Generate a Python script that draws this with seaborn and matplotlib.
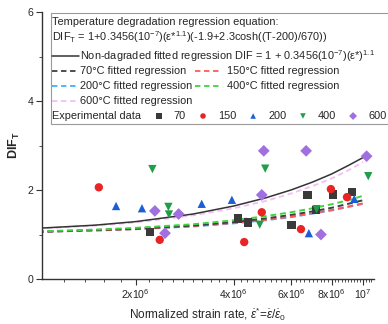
import numpy as np
import pandas as pd
import matplotlib
matplotlib.use("Agg")
import matplotlib.pyplot as plt
from matplotlib.patches import Rectangle
from matplotlib.ticker import FixedLocator, NullFormatter
import seaborn as sns

# experimental points
temps = ["70", "150", "200", "400", "600"]
rate_70 = [2.21e6, 4.12e6, 4.43e6, 6.03e6, 6.75e6, 7.16e6, 8.09e6, 9.26e6]
dif_70 = [1.06, 1.36, 1.27, 1.21, 1.89, 1.55, 1.90, 1.96]
rate_150 = [1.54e6, 2.37e6, 4.31e6, 4.88e6, 6.44e6, 7.96e6, 8.92e6]
dif_150 = [2.06, 0.88, 0.83, 1.50, 1.12, 2.02, 1.84]
rate_200 = [1.74e6, 2.09e6, 3.19e6, 3.95e6, 6.81e6, 9.39e6]
dif_200 = [1.64, 1.59, 1.69, 1.78, 1.03, 1.80]
rate_400 = [2.25e6, 2.52e6, 2.53e6, 5.0e6, 4.81e6, 7.19e6, 1.037e7]
dif_400 = [2.47, 1.62, 1.45, 2.48, 1.22, 1.57, 2.31]
rate_600 = [2.29e6, 2.46e6, 2.71e6, 4.95e6, 4.88e6, 6.68e6, 7.42e6, 1.025e7]
dif_600 = [1.53, 1.03, 1.46, 2.88, 1.89, 2.88, 1.00, 2.76]

# fitted regression curves
curve_rate = [1.0e6, 1.5e6, 2e6, 3e6, 4e6, 5e6, 6e6, 7e6, 8e6, 9e6, 1e7]
curve_nondeg = [1.14, 1.21, 1.29, 1.46, 1.64, 1.82, 2.00, 2.18, 2.36, 2.55, 2.73]
curve_70 = [1.06, 1.10, 1.13, 1.20, 1.28, 1.36, 1.44, 1.52, 1.60, 1.69, 1.77]
curve_150 = [1.06, 1.09, 1.12, 1.19, 1.26, 1.33, 1.40, 1.48, 1.55, 1.63, 1.70]
curve_200 = [1.06, 1.09, 1.12, 1.18, 1.25, 1.32, 1.39, 1.47, 1.54, 1.62, 1.69]
curve_400 = [1.07, 1.11, 1.15, 1.23, 1.32, 1.41, 1.50, 1.59, 1.68, 1.77, 1.87]
curve_600 = [1.13, 1.20, 1.27, 1.43, 1.59, 1.75, 1.92, 2.09, 2.26, 2.44, 2.63]

xtick_vals = [2e6, 4e6, 6e6, 8e6, 1e7]
xtick_labels = [r"2x10$^6$", r"4x10$^6$", r"6x10$^6$", r"8x10$^6$", r"10$^7$"]

marker_colors = {"70": "#3a3a3a", "150": "#e82424", "200": "#1a5fd6",
                 "400": "#1f9e4a", "600": "#a070e0"}
line_colors = {"70": "#404040", "150": "#ff5a5a", "200": "#40b0ff",
               "400": "#3fd43f", "600": "#f3bff3"}
markers = {"70": "s", "150": "o", "200": "^", "400": "v", "600": "D"}

sns.set_theme(style="ticks")
plt.rcParams["font.family"] = ["Liberation Sans", "DejaVu Sans"]
plt.rcParams["mathtext.fontset"] = "custom"
plt.rcParams["mathtext.rm"] = "Liberation Sans"
plt.rcParams["mathtext.it"] = "Liberation Sans:italic"
plt.rcParams["mathtext.bf"] = "Liberation Sans:bold"

pts = pd.concat([
    pd.DataFrame({"rate": r, "dif": d, "T": t})
    for t, r, d in zip(temps, [rate_70, rate_150, rate_200, rate_400, rate_600],
                       [dif_70, dif_150, dif_200, dif_400, dif_600])
])
curves = {"70": curve_70, "150": curve_150, "200": curve_200,
          "400": curve_400, "600": curve_600}

fig = plt.figure(figsize=(3.88, 3.24), dpi=100)
ax = fig.add_axes([42 / 388, 45 / 324, 332 / 388, 267 / 324])
ax.set_xscale("log")

dash = (0, (3, 2))
sns.lineplot(x=curve_rate, y=curves["600"], color=line_colors["600"], lw=1.3,
             linestyle=dash, ax=ax)
sns.lineplot(x=curve_rate, y=curve_nondeg, color="#333333", lw=1.1, ax=ax)
for t in ["200", "150", "70", "400"]:
    sns.lineplot(x=curve_rate, y=curves[t], color=line_colors[t], lw=1.4,
                 linestyle=dash, ax=ax)

sns.scatterplot(data=pts, x="rate", y="dif", hue="T", style="T",
                palette=marker_colors, markers=markers, s=36,
                edgecolor="none", legend=False, ax=ax, zorder=5)

ax.set_xlim(1.03e6, 1.08e7)
ax.set_ylim(0, 6)
ax.xaxis.set_major_locator(FixedLocator(xtick_vals))
ax.set_xticklabels(xtick_labels)
ax.xaxis.set_minor_locator(FixedLocator(np.arange(1.2e6, 1.08e7, 2e5)))
ax.xaxis.set_minor_formatter(NullFormatter())
ax.set_yticks([0, 2, 4, 6])
ax.set_yticks([1, 3, 5], minor=True)
ax.tick_params(which="major", length=4, width=0.8, labelsize=7.6, pad=2, color="#333333")
ax.tick_params(which="minor", length=2, width=0.6, color="#333333")
for s in ["left", "bottom"]:
    ax.spines[s].set_color("#333333")
    ax.spines[s].set_linewidth(1.0)
sns.despine(ax=ax)

ax.set_xlabel(r"Normalized strain rate, $\dot{\varepsilon}^{*}$=$\dot{\varepsilon}/\dot{\varepsilon}_0$",
              fontsize=8.5, labelpad=3)
ax.set_ylabel(r"DIF$_\mathbf{T}$", fontsize=9, fontweight="bold", labelpad=4)

# hand-made legend box (Origin style)
tr = ax.transAxes
ax.add_patch(Rectangle((0.026, 0.58), 1.1, 0.415, transform=tr, fill=True,
                       facecolor="white", edgecolor="#9a9a9a", lw=0.8,
                       clip_on=False, zorder=6))
fs = 7.9
tx = 0.031
ax.text(tx, 0.964, "Temperature degradation regression equation:", transform=tr,
        fontsize=fs, va="center", zorder=7)
ax.text(tx, 0.907, r"DIF$_\mathregular{T}$ = 1+0.3456(10$^{-7}$)(ε*$^{1.1}$)(-1.9+2.3cosh((T-200)/670))",
        transform=tr, fontsize=fs, va="center", zorder=7)
ax.plot([0.030, 0.111], [0.835, 0.835], color="#333333", lw=1.1, transform=tr,
        clip_on=False, zorder=7)
ax.text(0.1145, 0.835, r"Non-dagraded fitted regression DIF = 1 + 0.3456(10$^{-7}$)(ε*)$^{1.1}$",
        transform=tr, fontsize=fs, va="center", zorder=7)

rows = [("70", 0, 0.779), ("150", 1, 0.779), ("200", 0, 0.721),
        ("400", 1, 0.721), ("600", 0, 0.665)]
for t, col, yy in rows:
    x0, x1, xt = (0.030, 0.111, 0.1145) if col == 0 else (0.461, 0.539, 0.557)
    ax.plot([x0, x1], [yy, yy], color=line_colors[t], lw=1.3, linestyle=dash,
            transform=tr, clip_on=False, zorder=7)
    ax.text(xt, yy, f"{t}°C fitted regression", transform=tr, fontsize=fs,
            va="center", zorder=7)

ax.text(tx, 0.6105, "Experimental data", transform=tr, fontsize=fs, va="center", zorder=7)
mk_x = [0.352, 0.485, 0.636, 0.786, 0.937]
for t, mx in zip(temps, mk_x):
    ax.scatter([mx], [0.6105], marker=markers[t], color=marker_colors[t], s=16,
               edgecolor="none", transform=tr, clip_on=False, zorder=7)
    ax.text(mx + 0.045, 0.6105, t, transform=tr, fontsize=fs, va="center", zorder=7)

fig.savefig("out.png", dpi=100)
